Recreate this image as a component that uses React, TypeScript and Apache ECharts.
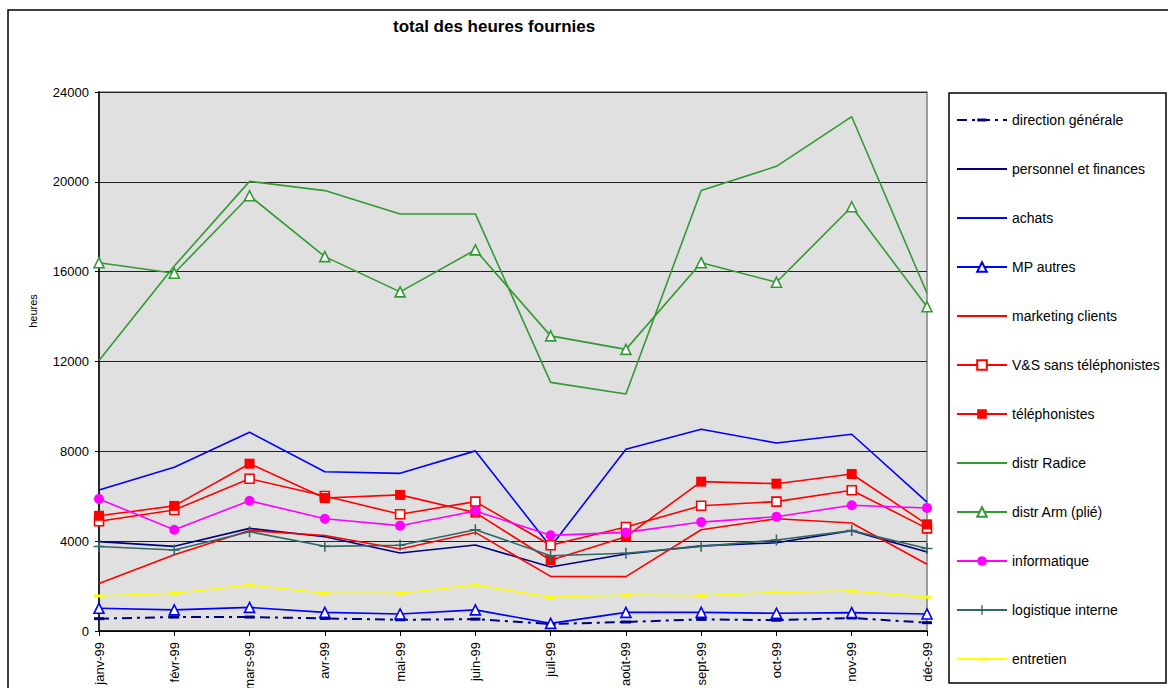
import React, { useEffect, useRef } from "react";
import * as echarts from "echarts";

const months = ["janv-99", "févr-99", "mars-99", "avr-99", "mai-99", "juin-99", "juil-99", "août-99", "sept-99", "oct-99", "nov-99", "déc-99"];

const directionGenerale = [550, 620, 620, 560, 500, 530, 310, 400, 520, 480, 580, 370];
const personnelFinances = [3980, 3770, 4570, 4200, 3470, 3830, 2850, 3430, 3790, 3930, 4470, 3520];
const achats = [6280, 7290, 8850, 7090, 7020, 8020, 3750, 8090, 8980, 8370, 8760, 5740];
const mpAutres = [1010, 940, 1050, 830, 760, 940, 340, 830, 830, 790, 820, 760];
const marketingClients = [2120, 3400, 4470, 4250, 3650, 4390, 2430, 2420, 4510, 5000, 4810, 2970];
const vsSansTel = [4890, 5390, 6780, 6010, 5200, 5760, 3820, 4630, 5580, 5760, 6270, 4570];
const telephonistes = [5130, 5570, 7450, 5920, 6060, 5270, 3150, 4200, 6650, 6560, 6990, 4750];
const distrRadice = [12040, 16250, 20020, 19610, 18570, 18570, 11070, 10550, 19610, 20690, 22900, 15040];
const distrArm = [16400, 15930, 19380, 16670, 15100, 16970, 13140, 12540, 16400, 15530, 18890, 14440];
const informatique = [5880, 4510, 5800, 5000, 4690, 5340, 4260, 4390, 4850, 5090, 5600, 5480];
const logistiqueInterne = [3760, 3610, 4420, 3770, 3820, 4510, 3350, 3460, 3770, 4050, 4470, 3670];
const entretien = [1560, 1680, 2050, 1680, 1680, 2050, 1500, 1600, 1570, 1720, 1780, 1510];

const yTicks = [0, 4000, 8000, 12000, 16000, 20000, 24000];

const FONT = "'Liberation Sans', Arial, sans-serif";
const PLUS = "path://M4.3,0 H5.7 V4.3 H10 V5.7 H5.7 V10 H4.3 V5.7 H0 V4.3 H4.3 Z";
const DASH = "path://M0,0 M0,3.5 H10 V6.5 H0 Z M10,10";
const CLEAR = "rgba(0,0,0,0)";

function mk(name: string, data: number[], color: string, extra: any = {}) {
  return {
    name,
    type: "line",
    data,
    symbol: "none",
    lineStyle: { color, width: 1.6 },
    itemStyle: { color: CLEAR },
    ...extra,
  };
}

export default function App() {
  const ref = useRef<HTMLDivElement>(null);
  useEffect(() => {
    if (!ref.current) return;
    const chart = echarts.init(ref.current, null, { renderer: "svg" });
    const series = [
      mk("direction générale", directionGenerale, "#000080", {
        symbol: DASH,
        symbolSize: 10,
        itemStyle: { color: "#000080" },
        lineStyle: { color: "#000080", width: 2, type: [10, 5, 3, 5] },
      }),
      mk("personnel et finances", personnelFinances, "#000080"),
      mk("achats", achats, "#0000FF"),
      mk("MP autres", mpAutres, "#0000FF", {
        symbol: "triangle",
        symbolSize: 10,
        itemStyle: { color: "#FFFFFF", borderColor: "#0000FF", borderWidth: 1.6 },
      }),
      mk("marketing clients", marketingClients, "#FF0000"),
      mk("V&S sans téléphonistes", vsSansTel, "#FF0000", {
        symbol: "rect",
        symbolSize: 9,
        itemStyle: { color: "#FFFFFF", borderColor: "#FF0000", borderWidth: 1.6 },
      }),
      mk("téléphonistes", telephonistes, "#FF0000", {
        symbol: "rect",
        symbolSize: 10,
        itemStyle: { color: "#FF0000" },
      }),
      mk("distr Radice", distrRadice, "#339933"),
      mk("distr Arm (plié)", distrArm, "#339933", {
        symbol: "triangle",
        symbolSize: 10,
        itemStyle: { color: "#FFFFFF", borderColor: "#339933", borderWidth: 1.6 },
      }),
      mk("informatique", informatique, "#FF00FF", {
        symbol: "circle",
        symbolSize: 10,
        itemStyle: { color: "#FF00FF" },
      }),
      mk("logistique interne", logistiqueInterne, "#336666", {
        symbol: PLUS,
        symbolSize: 11,
        itemStyle: { color: "#336666" },
      }),
      mk("entretien", entretien, "#FFFF00", {
        symbol: DASH,
        symbolSize: 10,
        itemStyle: { color: "#FFFF00" },
      }),
    ];
    chart.setOption({
      animation: false,
      backgroundColor: "#FFFFFF",
      textStyle: { fontFamily: FONT },
      title: {
        text: "total des heures fournies",
        left: 393,
        top: 18,
        padding: 0,
        textStyle: { fontSize: 17, fontWeight: "bold", color: "#000", fontFamily: FONT },
      },
      graphic: [
        {
          type: "rect",
          z: -1,
          shape: { x: 8, y: 10, width: 1200, height: 700 },
          style: { fill: "none", stroke: "#000", lineWidth: 1.5 },
        },
        {
          type: "rect",
          z: 0,
          shape: { x: 949, y: 93, width: 217, height: 590 },
          style: { fill: "#FFFFFF", stroke: "#000", lineWidth: 1.5 },
        },
        {
          type: "text",
          x: 33,
          y: 311,
          rotation: Math.PI / 2,
          style: {
            text: "heures",
            fontSize: 11,
            fontFamily: FONT,
            fill: "#000",
            align: "center",
            verticalAlign: "middle",
          },
        },
      ],
      legend: {
        orient: "vertical",
        left: 956,
        top: 113,
        padding: 0,
        itemWidth: 50,
        itemHeight: 12,
        itemGap: 35,
        textStyle: { fontSize: 14, color: "#000", fontFamily: FONT },
        data: series.map((s) => s.name),
      },
      grid: {
        left: 99,
        right: 241,
        top: 92,
        bottom: 57,
        containLabel: false,
        outerBoundsMode: "none",
        show: true,
        backgroundColor: "#E0E0E0",
        borderColor: "#808080",
        borderWidth: 1.5,
      },
      xAxis: {
        type: "category",
        data: months,
        boundaryGap: false,
        axisLine: { lineStyle: { color: "#000", width: 1.5 } },
        axisTick: { show: true, length: 5, alignWithLabel: true, lineStyle: { color: "#000" } },
        axisLabel: { rotate: 90, fontSize: 13, color: "#000", margin: 11, interval: 0, fontFamily: FONT },
        splitLine: { show: false },
      },
      yAxis: {
        type: "value",
        min: yTicks[0],
        max: yTicks[yTicks.length - 1],
        interval: 4000,
        axisLine: { show: true, lineStyle: { color: "#000", width: 1.5 } },
        axisTick: { show: true, length: 4, lineStyle: { color: "#000" } },
        axisLabel: {
          fontSize: 13,
          color: "#000",
          margin: 10,
          fontFamily: FONT,
          formatter: (v: number) => String(v),
        },
        splitLine: { show: true, lineStyle: { color: "#222", width: 1 } },
      },
      series,
    });
    return () => chart.dispose();
  }, []);
  return (
    <div
      ref={ref}
      style={{ position: "fixed", left: 0, top: 0, width: 1168, height: 688 }}
    />
  );
}
